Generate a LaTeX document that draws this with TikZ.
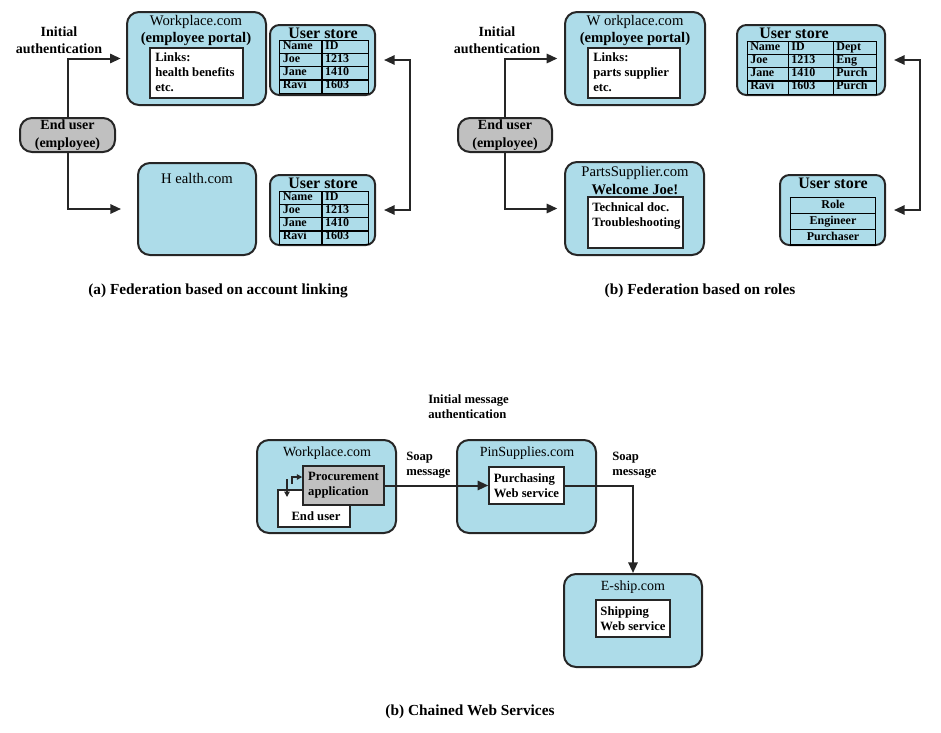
\documentclass[tikz,border=0pt]{standalone}
\usepackage{fontspec}
\setmainfont{Liberation Serif}
\usepackage{array}
\usetikzlibrary{positioning, fit, arrows.meta}

\definecolor{siteblue}{HTML}{ADDCE9}
\definecolor{usergray}{HTML}{C0C0C0}

\setlength{\tabcolsep}{2pt}
\setlength{\arrayrulewidth}{0.8pt}

% user store tables
\newcommand{\idtable}{\begin{tabular}{|p{27pt}|p{30pt}|}\hline
Name & ID\\\hline Joe & 1213\\\hline Jane & 1410\\\hline Ravi & 1603\\\hline
\end{tabular}}
\newcommand{\depttable}{\begin{tabular}{|p{26pt}|p{29pt}|p{28pt}|}\hline
Name & ID & Dept\\\hline Joe & 1213 & Eng\\\hline Jane & 1410 & Purch\\\hline Ravi & 1603 & Purch\\\hline
\end{tabular}}
\newcommand{\roletable}{\begin{tabular}{|>{\centering\arraybackslash}p{59pt}|}\hline
Role\\\hline Engineer\\\hline Purchaser\\\hline
\end{tabular}}

\tikzset{
  site/.style={draw=black!85, line width=1.5pt, rounded corners=9pt, fill=siteblue, inner sep=0pt},
  enduser/.style={draw=black!85, line width=1.5pt, rounded corners=9pt, fill=usergray, inner sep=0pt},
  panel/.style={draw=black!85, line width=1.1pt, fill=white, inner sep=0pt},
  sitename/.style={anchor=north, align=center, inner sep=0pt, font=\fontsize{11}{13}\selectfont},
  storename/.style={anchor=north, inner sep=0pt, font=\bfseries\fontsize{12}{13}\selectfont},
  storetab/.style={anchor=north, inner sep=0pt, font=\bfseries\fontsize{9}{9}\selectfont},
  note/.style={align=center, inner sep=0pt, font=\bfseries\fontsize{10.5}{13}\selectfont},
  smallnote/.style={align=left, inner sep=0pt, font=\bfseries\fontsize{9.5}{11.5}\selectfont},
  paneltext/.style={align=left, inner sep=0pt, font=\bfseries\fontsize{9.5}{11.5}\selectfont},
  caption/.style={inner sep=0pt, font=\bfseries\fontsize{11.5}{13}\selectfont},
  flow/.style={draw=black!85, line width=1.5pt, -{Triangle[length=8pt, width=7pt]}},
  tiny/.style={draw=black!85, line width=0.9pt, -{Triangle[length=4pt, width=4pt]}},
}

\begin{document}
\begin{tikzpicture}[x=0.75pt, y=-0.75pt]
    \useasboundingbox (0,0) rectangle (941,732);

    % ==========================================
    % (a) Federation based on account linking
    % ==========================================
    \node[note] (authA) at (59,40) {Initial\\authentication};

    % Sites
    \node[site, fit={(127,12) (266,105)}] (wpA) {};
    \node[sitename] (wpAname) at (196,15) {Workplace.com\\\textbf{(employee portal)}};
    \node[panel, fit={(150,48) (243,98)}] (lnkA) {};
    \node[paneltext, anchor=north west] (lnkAtext) at (155,52) {Links:\\health benefits\\etc.};

    \node[site, fit={(138,163) (256,255)}] (hlA) {};
    \node[sitename] (hlAname) at (197,173) {H ealth.com};

    % User stores
    \node[site, rounded corners=7pt, fit={(270,25) (375,95)}] (usA1) {};
    \node[storename] (usA1name) at (323,28) {User store};
    \node[storetab] (tabA1) at (324,40) {\idtable};

    \node[site, rounded corners=7pt, fit={(270,175) (375,245)}] (usA2) {};
    \node[storename] (usA2name) at (323,178) {User store};
    \node[storetab] (tabA2) at (324,191) {\idtable};

    % End user
    \node[enduser, fit={(20,118) (115,152)}] (euA) {};
    \node[note] (euAtext) at (euA.center) {End user\\(employee)};

    % Connections
    \draw[flow, shorten >=4pt] (euA.north) |- (wpA.west);
    \draw[flow, shorten >=12pt] (euA.south) |- (hlA.west);
    \coordinate (syncA) at (410,135);
    \draw[flow, shorten >=6pt] (syncA) |- (usA1.east);
    \draw[flow, shorten >=6pt] (syncA) |- (usA2.east);

    \node[caption] (capA) at (218,291) {(a) Federation based on account linking};

    % ==========================================
    % (b) Federation based on roles
    % ==========================================
    \node[note] (authB) at (497,40) {Initial\\authentication};

    % Sites
    \node[site, fit={(565,12) (705,105)}] (wpB) {};
    \node[sitename] (wpBname) at (635,15) {W orkplace.com\\\textbf{(employee portal)}};
    \node[panel, fit={(588,48) (680,98)}] (lnkB) {};
    \node[paneltext, anchor=north west] (lnkBtext) at (593,52) {Links:\\parts supplier\\etc.};

    \node[site, fit={(565,162) (704,255)}] (psB) {};
    \node[sitename, font=\fontsize{11}{13.5}\selectfont] (psBname) at (635,166) {PartsSupplier.com\\\textbf{Welcome Joe!}};
    \node[panel, fit={(588,197) (683,248)}] (docB) {};
    \node[paneltext, anchor=north west] (docBtext) at (592,202) {Technical doc.\\Troubleshooting};

    % User stores
    \node[site, rounded corners=7pt, fit={(737,25) (885,95)}] (usB1) {};
    \node[storename] (usB1name) at (794,28) {User store};
    \node[storetab] (tabB1) at (812,41) {\depttable};

    \node[site, rounded corners=7pt, fit={(780,175) (885,245)}] (usB2) {};
    \node[storename] (usB2name) at (833,178) {User store};
    \node[storetab, font=\bfseries\fontsize{9}{11}\selectfont] (tabB2) at (833,197) {\roletable};

    % End user
    \node[enduser, fit={(458,118) (552,152)}] (euB) {};
    \node[note] (euBtext) at (euB.center) {End user\\(employee)};

    % Connections
    \draw[flow, shorten >=5pt] (euB.north) |- (wpB.west);
    \draw[flow, shorten >=5pt] (euB.south) |- (psB.west);
    \coordinate (syncB) at (920,135);
    \draw[flow, shorten >=6pt] (syncB) |- (usB1.east);
    \draw[flow, shorten >=6pt] (syncB) |- (usB2.east);

    \node[caption] (capB) at (700,291) {(b) Federation based on roles};

    % ==========================================
    % (c) Chained web services
    % ==========================================
    \node[smallnote, anchor=north west] (authC) at (428,394) {Initial message\\authentication};

    % Workplace.com
    \node[site, fit={(257,440) (396,533)}] (wpC) {};
    \node[sitename, font=\fontsize{10.5}{12}\selectfont] (wpCname) at (327,447) {Workplace.com};
    \node[panel, fit={(278,490) (350,527)}] (euC) {};
    \node[paneltext] (euCtext) at (316,516) {End user};
    \node[panel, fill=usergray, fit={(303,466) (384,505)}] (procC) {};
    \node[paneltext] (procCtext) at (procC.center) {Procurement\\application};

    % PinSupplies.com
    \node[site, fit={(457,440) (596,533)}] (pinC) {};
    \node[sitename, font=\fontsize{10.5}{12}\selectfont] (pinCname) at (527,447) {PinSupplies.com};
    \node[panel, fit={(489,467) (564,504)}] (purC) {};
    \node[paneltext] (purCtext) at (purC.center) {Purchasing\\Web service};

    % E-ship.com
    \node[site, fit={(564,574) (702,667)}] (esC) {};
    \node[sitename, font=\fontsize{10.5}{12}\selectfont] (esCname) at (633,581) {E-ship.com};
    \node[panel, fit={(596,600) (670,637)}] (shipC) {};
    \node[paneltext] (shipCtext) at (shipC.center) {Shipping\\Web service};

    % Messages
    \node[smallnote, anchor=north west] (soap1) at (406,452) {Soap\\message};
    \node[smallnote, anchor=north west] (soap2) at (612,452) {Soap\\message};
    \draw[flow] (procC.east) -- (purC.west);
    \draw[flow] (purC.east) -| (esC.north);

    % End user <-> application
    \coordinate (loopUp) at (292,484);
    \coordinate (loopDn) at (287,479);
    \draw[tiny] (loopUp) |- (procC.west |- 0,477);
    \draw[tiny] (loopDn) -- (loopDn |- 0,497);

    \node[caption] (capC) at (470,712) {(b) Chained Web Services};

\end{tikzpicture}
\end{document}
